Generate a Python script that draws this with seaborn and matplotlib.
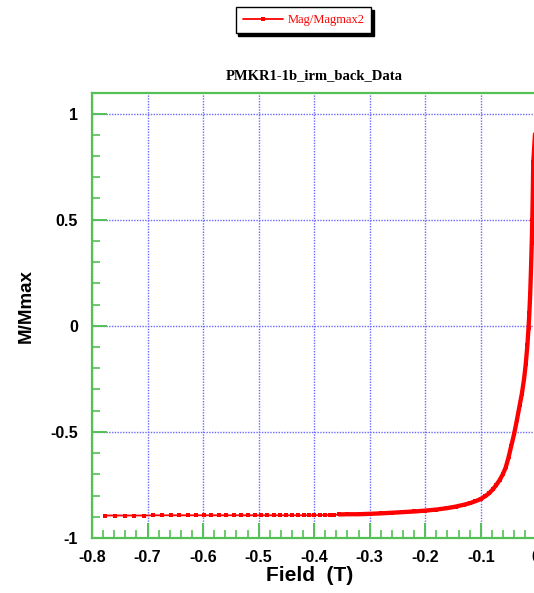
import matplotlib
matplotlib.use("Agg")
import matplotlib.pyplot as plt
from matplotlib.ticker import MultipleLocator, FixedLocator
import seaborn as sns
import pandas as pd

# Back-field IRM curve: applied field (T) and normalised magnetisation
field = [
    -0.777, -0.759, -0.741, -0.724, -0.707, -0.690, -0.674, -0.658, -0.643,
    -0.628, -0.613, -0.599, -0.585, -0.571, -0.558, -0.545, -0.532, -0.519,
    -0.507, -0.495, -0.484, -0.472, -0.461, -0.450, -0.440, -0.429, -0.419,
    -0.409, -0.400, -0.390, -0.381, -0.372, -0.364, -0.355,
    -0.340, -0.320, -0.300, -0.280, -0.260, -0.240, -0.220, -0.200, -0.180,
    -0.160, -0.145, -0.130, -0.120, -0.110, -0.100, -0.092, -0.085, -0.078,
    -0.072, -0.066, -0.060, -0.055, -0.050, -0.045, -0.040, -0.035, -0.030,
    -0.026, -0.022, -0.019, -0.016, -0.014, -0.0125, -0.011, -0.0095,
    -0.0082, -0.0072, -0.0063, -0.0055, -0.0003,
]
mag = [
    -0.894, -0.894, -0.894, -0.894, -0.894, -0.893, -0.893, -0.893, -0.893,
    -0.893, -0.893, -0.893, -0.893, -0.893, -0.893, -0.893, -0.893, -0.893,
    -0.893, -0.893, -0.893, -0.893, -0.893, -0.893, -0.893, -0.893, -0.893,
    -0.893, -0.893, -0.892, -0.892, -0.892, -0.891, -0.889,
    -0.888, -0.888, -0.886, -0.884, -0.881, -0.878, -0.875, -0.871, -0.866,
    -0.859, -0.852, -0.843, -0.836, -0.827, -0.816, -0.803, -0.789, -0.770,
    -0.750, -0.727, -0.698, -0.667, -0.620, -0.565, -0.510, -0.445, -0.375,
    -0.320, -0.250, -0.180, -0.090, -0.010, 0.060, 0.150, 0.270,
    0.390, 0.500, 0.620, 0.770, 0.990,
]
series_name = "Mag/Magmax2"
title_text = "PMKR1-1b_irm_back_Data"
x_label = "Field  (T)"
y_label = "M/Mmax"
x_ticks = [-0.8, -0.7, -0.6, -0.5, -0.4, -0.3, -0.2, -0.1, 0.0]
x_tick_labels = ["-0.8", "-0.7", "-0.6", "-0.5", "-0.4", "-0.3", "-0.2", "-0.1", "0"]
y_ticks = [-1.0, -0.5, 0.0, 0.5, 1.0]
y_tick_labels = ["-1", "-0.5", "0", "0.5", "1"]

df = pd.DataFrame({"field": field, "mag": mag})
dense = df[df["field"] >= -0.36]

sns.set_theme(style="white")
plt.rcParams["font.family"] = ["Liberation Sans", "DejaVu Sans"]

W, H = 534, 593
fig = plt.figure(figsize=(W / 100, H / 100), dpi=100)
left, right, top, bottom = 92, 536.3, 93, 538
ax = fig.add_axes([left / W, (H - bottom) / H, (right - left) / W, (bottom - top) / H])

red = "#ff0000"
green = "#55c055"
blue = "#6a6aff"

sns.lineplot(data=df, x="field", y="mag", ax=ax, sort=False, color=red,
             linewidth=1.3, marker="s", markersize=3.2, markeredgewidth=0,
             label=series_name, clip_on=True)
# closely spaced readings merge into a solid trace
sns.lineplot(data=dense, x="field", y="mag", ax=ax, sort=False, color=red,
             linewidth=3.1, legend=False)

ax.set_xlim(-0.8, 0.0)
ax.set_ylim(-1.0, 1.097)
ax.xaxis.set_major_locator(FixedLocator(x_ticks))
ax.set_xticklabels(x_tick_labels)
ax.yaxis.set_major_locator(FixedLocator(y_ticks))
ax.set_yticklabels(y_tick_labels)
ax.xaxis.set_minor_locator(MultipleLocator(0.02))
ax.yaxis.set_minor_locator(MultipleLocator(0.1))

ax.grid(True, which="major", color=blue, linestyle=(0, (1, 1)), linewidth=1.0)
ax.set_axisbelow(True)

for side in ["left", "bottom", "top", "right"]:
    ax.spines[side].set_color(green)
    ax.spines[side].set_linewidth(1.6)

ax.tick_params(which="both", direction="in", color=green, left=True, bottom=True,
               top=False, right=False)
ax.tick_params(which="major", length=10.8, width=1.4, labelsize=11.5, pad=9)
ax.tick_params(which="minor", length=5.8, width=1.2)
ax.tick_params(axis="y", which="major", pad=10)
for lab in ax.get_xticklabels() + ax.get_yticklabels():
    lab.set_fontweight("bold")
    lab.set_color("black")

ax.set_xlabel(x_label, fontsize=15, fontweight="bold", color="black")
ax.set_ylabel(y_label, fontsize=13.5, fontweight="bold", color="black")
ax.xaxis.set_label_coords((310 - left) / (right - left), -0.064)
ax.yaxis.set_label_coords((35 - left) / (right - left), (bottom - 306) / (bottom - top))

ax.set_title(title_text, fontsize=10.5, fontweight="bold", color="black",
             family=["Liberation Serif", "DejaVu Serif"], pad=10)

leg = ax.legend(loc="center", bbox_to_anchor=(303.5 / W, 1 - 20 / H),
                bbox_transform=fig.transFigure, frameon=True, fancybox=False,
                shadow={"color": "black", "alpha": 1.0},
                prop={"family": ["Liberation Serif", "DejaVu Serif"], "size": 9},
                handlelength=3.2, handletextpad=0.4, borderpad=0.55,
                borderaxespad=0)
leg.get_frame().set_edgecolor("black")
leg.get_frame().set_linewidth(1.0)
for t in leg.get_texts():
    t.set_color(red)

fig.savefig("out.png", dpi=100)
